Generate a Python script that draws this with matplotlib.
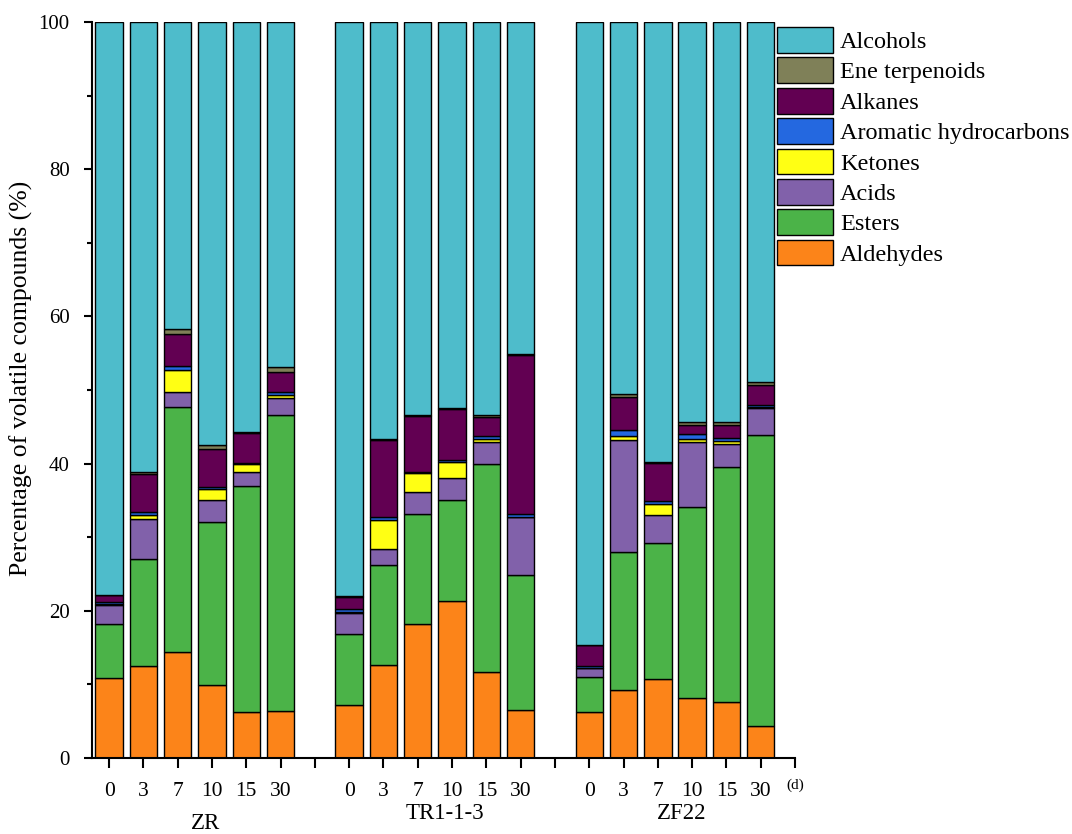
import numpy as np
import matplotlib
matplotlib.use("Agg")
import matplotlib.pyplot as plt

plt.rcParams['font.family'] = ['Liberation Serif', 'DejaVu Serif']

groups = ["ZR", "TR1-1-3", "ZF22"]
days = ["0", "3", "7", "10", "15", "30"]

# bottom -> top stacking order
classes = ["Aldehydes", "Esters", "Acids", "Ketones", "Aromatic hydrocarbons",
           "Alkanes", "Ene terpenoids", "Alcohols"]
colors = ["#FC8419", "#4BB348", "#8161AA", "#FFFF14", "#2468E0",
          "#620052", "#7F8058", "#4EBCCB"]

# values per sample: ZR 0..30, TR1-1-3 0..30, ZF22 0..30
aldehydes = [10.9, 12.5, 14.4, 9.9, 6.2, 6.4,
             7.2, 12.6, 18.2, 21.3, 11.7, 6.5,
             6.2, 9.3, 10.7, 8.1, 7.65, 4.4]
esters = [7.3, 14.5, 33.3, 22.2, 30.8, 40.2,
          9.6, 13.6, 15.0, 13.8, 28.2, 18.3,
          4.85, 18.7, 18.5, 26.0, 31.85, 39.5]
acids = [2.6, 5.5, 2.0, 3.0, 1.9, 2.3,
         2.9, 2.2, 2.9, 3.0, 3.1, 7.9,
         1.15, 15.2, 3.8, 8.9, 3.2, 3.65]
ketones = [0.1, 0.5, 3.0, 1.5, 1.1, 0.4,
           0.1, 4.0, 2.6, 2.1, 0.4, 0.1,
           0.05, 0.55, 1.5, 0.4, 0.4, 0.1]
aromatic = [0.3, 0.4, 0.6, 0.2, 0.1, 0.4,
            0.4, 0.4, 0.2, 0.3, 0.35, 0.4,
            0.3, 0.85, 0.4, 0.6, 0.4, 0.25]
alkanes = [0.9, 5.2, 4.3, 5.2, 4.1, 2.8,
           1.7, 10.4, 7.6, 6.9, 2.55, 21.6,
           2.75, 4.4, 5.2, 1.3, 1.8, 2.8]
ene = [0.1, 0.2, 0.7, 0.5, 0.1, 0.6,
       0.1, 0.2, 0.1, 0.1, 0.3, 0.1,
       0.1, 0.5, 0.1, 0.4, 0.4, 0.4]

series = [aldehydes, esters, acids, ketones, aromatic, alkanes, ene]
others = np.sum(np.array(series), axis=0)
alcohols = list(100 - others)
series.append(alcohols)

# bar positions: 6 bars per group, one empty slot between groups
pos = []
for g in range(len(groups)):
    pos += [g * 7 + 1 + i for i in range(len(days))]
pos = np.array(pos)

fig = plt.figure(figsize=(10.72, 8.34), dpi=100)
ax = fig.add_axes([92 / 1072, 1 - 758 / 834, 703 / 1072, 736 / 834])

bottom = np.zeros(len(pos))
handles = []
for name, vals, col in zip(classes, series, colors):
    vals = np.array(vals)
    b = ax.bar(pos, vals, width=0.8, bottom=bottom, color=col,
               edgecolor="black", linewidth=1.0, label=name)
    handles.append(b)
    bottom += vals

ax.set_xlim(0.5, 21)
ax.set_ylim(0, 100)
ax.set_yticks([0, 20, 40, 60, 80, 100])
ax.set_yticks([10, 30, 50, 70, 90], minor=True)

ticks = list(range(1, 22))
labels = []
for t in ticks:
    if t % 7 == 0:
        labels.append("")
    else:
        labels.append(days[(t - 1) % 7])
ax.set_xticks(ticks)
ax.set_xticklabels(labels)
ax.tick_params(axis="x", which="major", direction="out", labelsize=15.5,
               width=1.5, length=7, pad=10)
ax.tick_params(axis="y", which="major", direction="out", labelsize=15,
               width=1.5, length=6, pad=10)
ax.tick_params(axis="y", which="minor", direction="out", width=1.5, length=3.6)

for s in ["top", "right"]:
    ax.spines[s].set_visible(False)
for s in ["left", "bottom"]:
    ax.spines[s].set_linewidth(1.5)

ax.set_ylabel("Percentage of volatile compounds (%)", fontsize=18.5)
ax.yaxis.set_label_coords(-0.084, 0.516)

# group labels and unit
trans = ax.get_xaxis_transform()
ax.text(3.8, -0.089, groups[0], transform=trans, ha="center", va="center", fontsize=16.5)
ax.text(10.8, -0.075, groups[1], transform=trans, ha="center", va="center", fontsize=16.5)
ax.text(17.7, -0.075, groups[2], transform=trans, ha="center", va="center", fontsize=16.5)
ax.text(21, -0.037, "(d)", transform=trans, ha="center", va="center", fontsize=11)

fig.legend(handles[::-1], classes[::-1], loc="upper left",
           bbox_to_anchor=(777 / 1072, 1 - 27 / 834), frameon=False,
           fontsize=17.5, handlelength=2.3, handleheight=1.25, labelspacing=0.18,
           handletextpad=0.3, borderpad=0, borderaxespad=0)

fig.savefig("out.png", dpi=100)
